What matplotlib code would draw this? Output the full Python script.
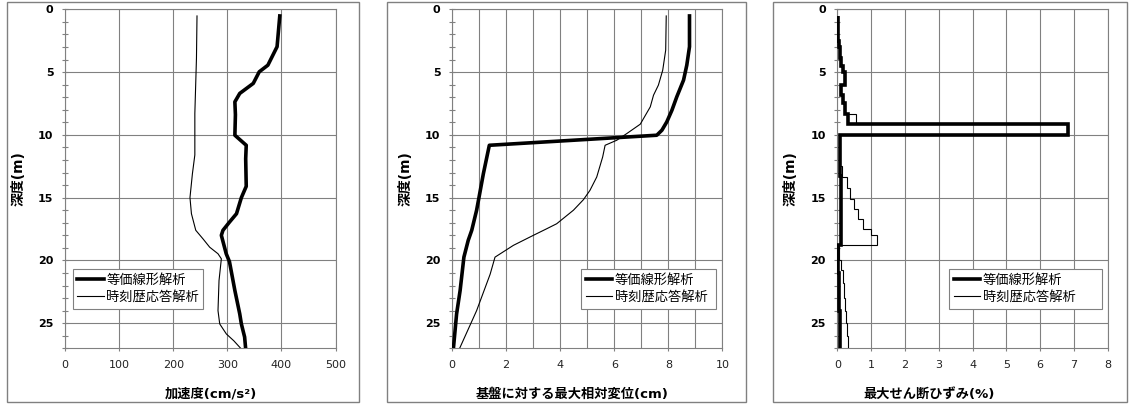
import matplotlib
matplotlib.use('Agg')
import matplotlib.pyplot as plt
from matplotlib.patches import Rectangle
from matplotlib.ticker import MultipleLocator

plt.rcParams['font.family'] = ['DejaVu Sans', 'Noto Sans CJK JP']

# ---- data ----
label_eq = '等価線形解析'
label_th = '時刻歴応答解析'

# panel 1 : max acceleration (cm/s2)
depth_acc_eq = [0.53, 2.98, 4.45, 4.98, 5.9, 6.7, 7.37, 8.4, 10.03, 10.83, 11.9, 14.1,
                15.0, 16.28, 16.95, 17.6, 18.0, 19.47, 20.1, 22.4, 24.26, 25.06, 26.1, 27.06]
acc_eq = [397, 392, 375, 359, 348, 323, 314, 315, 314, 335, 334, 335,
          326, 317, 304, 292, 289, 298, 304, 314, 323, 326, 332, 334]
depth_acc_th = [0.53, 3.9, 8.3, 11.6, 13.1, 15.0, 16.28, 17.6, 18.28, 18.95, 19.47,
                19.87, 21.6, 24.0, 25.06, 25.86, 26.4, 27.06]
acc_th = [244, 243, 240, 240, 235.5, 231, 233.7, 241.7, 255, 267.5, 282.8,
          289, 284.7, 282.8, 286, 298.3, 312, 326]

# panel 2 : max relative displacement to base (cm)
depth_disp_eq = [0.53, 2.98, 4.45, 5.64, 6.44, 6.97, 8.04, 8.97, 9.63, 10.03, 10.83,
                 13.09, 14.96, 16.0, 17.6, 18.4, 19.74, 22.4, 24.26, 27.06]
disp_eq = [8.78, 8.78, 8.68, 8.56, 8.41, 8.31, 8.13, 7.94, 7.76, 7.57, 1.38,
           1.16, 1.0, 0.91, 0.73, 0.6, 0.44, 0.3, 0.17, 0.05]
depth_disp_th = [0.53, 3.25, 4.85, 6.04, 6.84, 7.77, 9.15, 9.9, 10.43, 10.83, 11.76,
                 13.36, 14.42, 15.16, 16.0, 17.08, 17.48, 18.0, 18.8, 19.74, 21.1, 24.0, 27.06]
disp_th = [7.92, 7.9, 7.79, 7.63, 7.45, 7.33, 6.96, 6.46, 6.09, 5.66, 5.57,
           5.35, 5.1, 4.86, 4.49, 3.87, 3.5, 3.01, 2.27, 1.59, 1.41, 0.91, 0.27]

# panel 3 : max shear strain (%) per layer
strain_edges_eq = [0.5, 1.5, 2.5, 3.0, 3.9, 4.5, 5.0, 6.0, 6.8, 7.5, 8.3, 9.1, 10.0,
                   13.3, 18.8, 21.0, 24.0, 27.0]
strain_eq = [0.01, 0.03, 0.05, 0.08, 0.12, 0.16, 0.24, 0.12, 0.17, 0.24, 0.31, 6.83,
             0.08, 0.11, 0.03, 0.05, 0.07]
strain_edges_th = [0.5, 1.5, 2.5, 3.0, 3.9, 4.5, 5.0, 6.0, 6.8, 7.5, 8.3, 9.1, 10.0,
                   12.5, 13.35, 14.2, 15.1, 15.9, 16.7, 17.5, 18.0, 18.8, 20.0, 20.8,
                   21.8, 23.0, 24.0, 25.0, 26.0, 27.0]
strain_th = [0.01, 0.03, 0.05, 0.08, 0.12, 0.16, 0.24, 0.12, 0.17, 0.24, 0.56, 6.83,
             0.08, 0.15, 0.30, 0.39, 0.5, 0.62, 0.77, 1.0, 1.17, 0.05, 0.11, 0.17,
             0.2, 0.22, 0.25, 0.28, 0.31]

xlabels = ['加速度(cm/s²)', '基盤に対する最大相対変位(cm)', '最大せん断ひずみ(%)']
xlims = [(0, 500), (0, 10), (0, 8)]
xmajor = [100, 2, 1]
xgrid = [100, 1, 1]

GRAY = '#808080'

fig = plt.figure(figsize=(11.33, 4.04), dpi=100)

# outer chart frames
frames = [(7, 359), (387, 746), (773, 1127)]
for x0, x1 in frames:
    fig.patches.append(Rectangle((x0 / 1133, 2 / 404), (x1 - x0) / 1133, 400 / 404,
                                 transform=fig.transFigure, fill=False,
                                 edgecolor=GRAY, lw=1))

ax_left = [65, 452, 837.3]
ax_w = 270.5
axes = []
for i in range(3):
    ax = fig.add_axes([ax_left[i] / 1133, 1 - 348.3 / 404, ax_w / 1133, 339 / 404])
    axes.append(ax)

ax1, ax2, ax3 = axes
ax1.plot(acc_th, depth_acc_th, color='k', lw=0.8, label=label_th, zorder=3)
ax1.plot(acc_eq, depth_acc_eq, color='k', lw=2.6, label=label_eq, zorder=4)
ax2.plot(disp_th, depth_disp_th, color='k', lw=0.8, label=label_th, zorder=3)
ax2.plot(disp_eq, depth_disp_eq, color='k', lw=2.6, label=label_eq, zorder=4)
ax3.stairs(strain_th, strain_edges_th, orientation='horizontal', baseline=None,
           color='k', lw=0.8, label=label_th, zorder=3)
ax3.stairs(strain_eq, strain_edges_eq, orientation='horizontal', baseline=None,
           color='k', lw=2.6, label=label_eq, zorder=4)

xlab_pos = [0.539, 0.446, 0.339]
leg_box = [(0.028, 0.510), (0.477, 0.977), (0.414, 0.978)]

for i, ax in enumerate(axes):
    ax.set_xlim(*xlims[i])
    ax.set_ylim(27, 0)
    ax.xaxis.set_major_locator(MultipleLocator(xmajor[i]))
    ax.xaxis.set_minor_locator(MultipleLocator(xgrid[i]))
    ax.yaxis.set_major_locator(MultipleLocator(5))
    ax.yaxis.set_minor_locator(MultipleLocator(1))
    ax.grid(True, which='major', color=GRAY, lw=0.8)
    ax.grid(True, which='minor', axis='x', color=GRAY, lw=0.8)
    for s in ax.spines.values():
        s.set_color(GRAY)
        s.set_linewidth(0.8)
    ax.tick_params(axis='x', which='major', direction='out', length=2.5, width=0.8,
                   color=GRAY, pad=6, labelsize=8, labelcolor='#222222')
    ax.tick_params(axis='x', which='minor', length=0)
    ax.tick_params(axis='y', which='both', direction='inout', length=4.5, width=0.8,
                   color=GRAY, pad=6, labelsize=8)
    for t in ax.get_yticklabels():
        t.set_fontweight('bold')
    ax.set_axisbelow(True)

    ax.set_xlabel(xlabels[i], fontsize=9.5, fontweight='bold')
    ax.xaxis.set_label_coords(xlab_pos[i], -0.117)
    ax.set_ylabel('深度(m)', fontsize=10, fontweight='bold')
    ax.yaxis.set_label_coords(-0.145, 0.5)

    h, l = ax.get_legend_handles_labels()
    x0, x1 = leg_box[i]
    leg = ax.legend(h[::-1], l[::-1], loc='upper left',
                    bbox_to_anchor=(x0, 0.113, x1 - x0, 0.12), mode='expand',
                    borderaxespad=0, fontsize=9.5, handlelength=2.0,
                    handletextpad=0.2, labelspacing=0.3, borderpad=0.35,
                    fancybox=False, framealpha=1, edgecolor=GRAY,
                    prop={'family': ['Noto Sans CJK JP'], 'size': 9.5})
    leg.get_frame().set_linewidth(0.8)

fig.savefig('out.png', dpi=100)
